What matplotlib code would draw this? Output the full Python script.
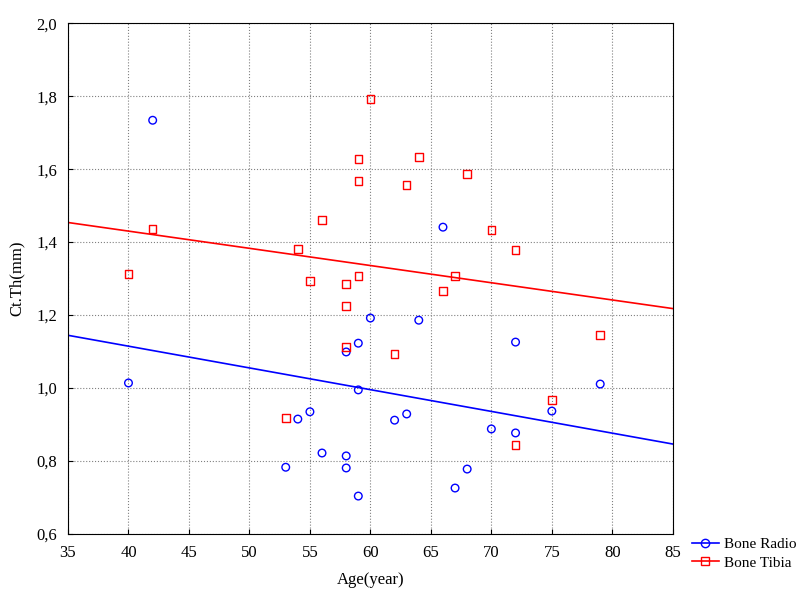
import numpy as np
import matplotlib.pyplot as plt
from matplotlib.lines import Line2D

plt.rcParams['font.family'] = ['Liberation Serif', 'DejaVu Serif']

radio_age = [42, 40, 54, 55, 53, 56, 58, 58, 58, 59, 59, 59, 60, 62, 63, 64, 66, 67, 68, 70, 72, 72, 75, 79]
radio_th = [1.734, 1.014, 0.915, 0.935, 0.783, 0.822, 1.099, 0.814, 0.781, 1.123, 0.995, 0.704,
            1.192, 0.912, 0.929, 1.186, 1.441, 0.726, 0.778, 0.888, 1.126, 0.877, 0.937, 1.011]
tibia_age = [40, 42, 53, 54, 55, 56, 58, 58, 58, 59, 59, 59, 60, 62, 63, 64, 66, 67, 68, 70, 72, 72, 75, 79]
tibia_th = [1.312, 1.436, 0.918, 1.381, 1.293, 1.460, 1.285, 1.225, 1.112, 1.627, 1.567, 1.307,
            1.792, 1.093, 1.556, 1.633, 1.266, 1.307, 1.586, 1.433, 1.378, 0.844, 0.967, 1.145]

fig = plt.figure(figsize=(8, 5.95), dpi=100)
ax = fig.add_axes([0.085, 0.1025, 0.756, 0.8585])

xs = np.array([35, 85])
for age, th, c, m in [(radio_age, radio_th, 'blue', 'o'), (tibia_age, tibia_th, 'red', 's')]:
    ax.scatter(age, th, facecolors='none', edgecolors=c, marker=m, s=30, linewidths=1, zorder=3)
    k, b = np.polyfit(age, th, 1)
    ax.plot(xs, k * xs + b, color=c, lw=1.2, zorder=2)

ax.set_xlim(35, 85)
ax.set_ylim(0.6, 2.0)
ax.set_xticks(range(35, 90, 5))
ax.set_yticks(np.arange(0.6, 2.01, 0.2))
ax.set_yticklabels([f'{v:.1f}'.replace('.', ',') for v in np.arange(0.6, 2.01, 0.2)])
ax.grid(True, linestyle=':', color='gray', lw=0.8)
ax.tick_params(direction='in', labelsize=12, pad=8)
ax.set_xlabel('Age(year)', fontsize=12, labelpad=8)
ax.set_ylabel('Ct.Th(mm)', fontsize=12, labelpad=8)

handles = [Line2D([0], [0], color='blue', marker='o', mfc='none', lw=1.2),
           Line2D([0], [0], color='red', marker='s', mfc='none', lw=1.2)]
fig.legend(handles, ['Bone Radio', 'Bone Tibia'], loc='lower left', bbox_to_anchor=(0.855, 0.03),
           frameon=False, fontsize=11, handlelength=1.8, borderpad=0, labelspacing=0.3, handletextpad=0.3)

fig.savefig('out.png')
